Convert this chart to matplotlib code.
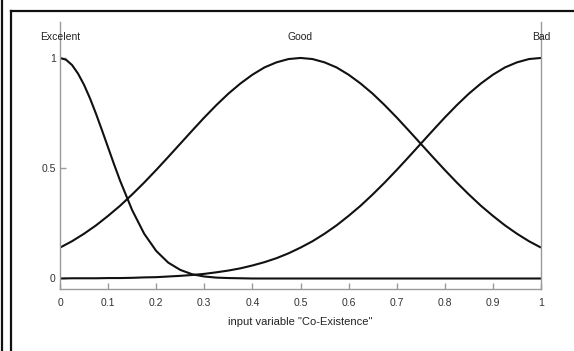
import matplotlib.pyplot as plt
import numpy as np
from matplotlib.lines import Line2D

# sample positions along the input variable, every 0.025
x_vals = np.linspace(0, 1, 41)

# "Excelent" bends sharply near 0, so it is read at its own, denser positions
excelent_x = [0.0, 0.0125, 0.025, 0.0375, 0.05, 0.0625, 0.075, 0.0875, 0.1, 0.1125,
              0.125, 0.15, 0.175, 0.2, 0.225, 0.25, 0.275, 0.3, 0.325, 0.35,
              0.375, 0.4, 1.0]
excelent = [1.000, 0.992, 0.968, 0.929, 0.878, 0.816, 0.746, 0.671, 0.594, 0.517,
            0.443, 0.310, 0.203, 0.125, 0.072, 0.039, 0.019, 0.009, 0.004, 0.002,
            0.001, 0.000, 0.000]
good = [0.140, 0.169, 0.203, 0.241, 0.284, 0.330, 0.381, 0.435, 0.492, 0.551,
        0.611, 0.671, 0.730, 0.786, 0.838, 0.884, 0.924, 0.957, 0.980, 0.995,
        1.000, 0.995, 0.980, 0.957, 0.924, 0.884, 0.838, 0.786, 0.730, 0.671,
        0.611, 0.551, 0.492, 0.435, 0.381, 0.330, 0.284, 0.241, 0.203, 0.169,
        0.140]
bad = [0.000, 0.001, 0.001, 0.001, 0.002, 0.002, 0.003, 0.005, 0.006, 0.009,
       0.012, 0.016, 0.021, 0.028, 0.036, 0.046, 0.059, 0.074, 0.092, 0.114,
       0.140, 0.169, 0.203, 0.241, 0.284, 0.330, 0.381, 0.435, 0.492, 0.551,
       0.611, 0.671, 0.730, 0.786, 0.838, 0.884, 0.924, 0.957, 0.980, 0.995,
       1.000]

mf_names = ["Excelent", "Good", "Bad"]
mf_label_x = [0.0, 0.5, 1.0]

x_ticks = [0, 0.1, 0.2, 0.3, 0.4, 0.5, 0.6, 0.7, 0.8, 0.9, 1]
x_ticklabels = ["0", "0.1", "0.2", "0.3", "0.4", "0.5", "0.6", "0.7", "0.8", "0.9", "1"]
y_ticks = [0, 0.5, 1]
y_ticklabels = ["0", "0.5", "1"]

plt.rcParams['font.family'] = ['Liberation Sans Narrow', 'Liberation Sans', 'DejaVu Sans']

W, H = 574, 351
fig = plt.figure(figsize=(W / 100, H / 100), dpi=100)
ax = fig.add_axes([60 / W, 1 - 289.3 / H, (541 - 60) / W, (289.3 - 22) / H])

line_kw = dict(color='#111111', lw=1.5, solid_capstyle='butt', solid_joinstyle='round')
ax.plot(excelent_x, excelent, **line_kw)
ax.plot(x_vals, good, **line_kw)
ax.plot(x_vals, bad, **line_kw)

ax.set_xlim(0, 1)
ax.set_ylim(-0.049, 1.163)

for s in ('left', 'right', 'bottom'):
    ax.spines[s].set_color('#9a9a9a')
    ax.spines[s].set_linewidth(1.0)
ax.spines['top'].set_visible(False)

ax.set_xticks(x_ticks, x_ticklabels)
ax.set_yticks(y_ticks, y_ticklabels)
ax.tick_params(axis='both', direction='in', colors='#9a9a9a', labelcolor='#333333',
               labelsize=7.5, length=4, width=1)
ax.tick_params(axis='x', pad=6)
ax.tick_params(axis='y', pad=3)

for name, xl in zip(mf_names, mf_label_x):
    ax.text(xl, 1.095, name, ha='center', va='center', fontsize=7.5, color='#222222')

ax.set_xlabel('input variable "Co-Existence"', fontsize=8, color='#222222', labelpad=7)

# scanned page frame
frame = dict(color='#111111', lw=1.6, transform=fig.transFigure)
fig.add_artist(Line2D([1.5 / W, 1.5 / W], [0, 1], **frame))
fig.add_artist(Line2D([11 / W, 11 / W], [0, 1 - 11 / H], **frame))
fig.add_artist(Line2D([11 / W, 1], [1 - 11 / H, 1 - 11 / H], **frame))

fig.savefig('out.png', dpi=100)
